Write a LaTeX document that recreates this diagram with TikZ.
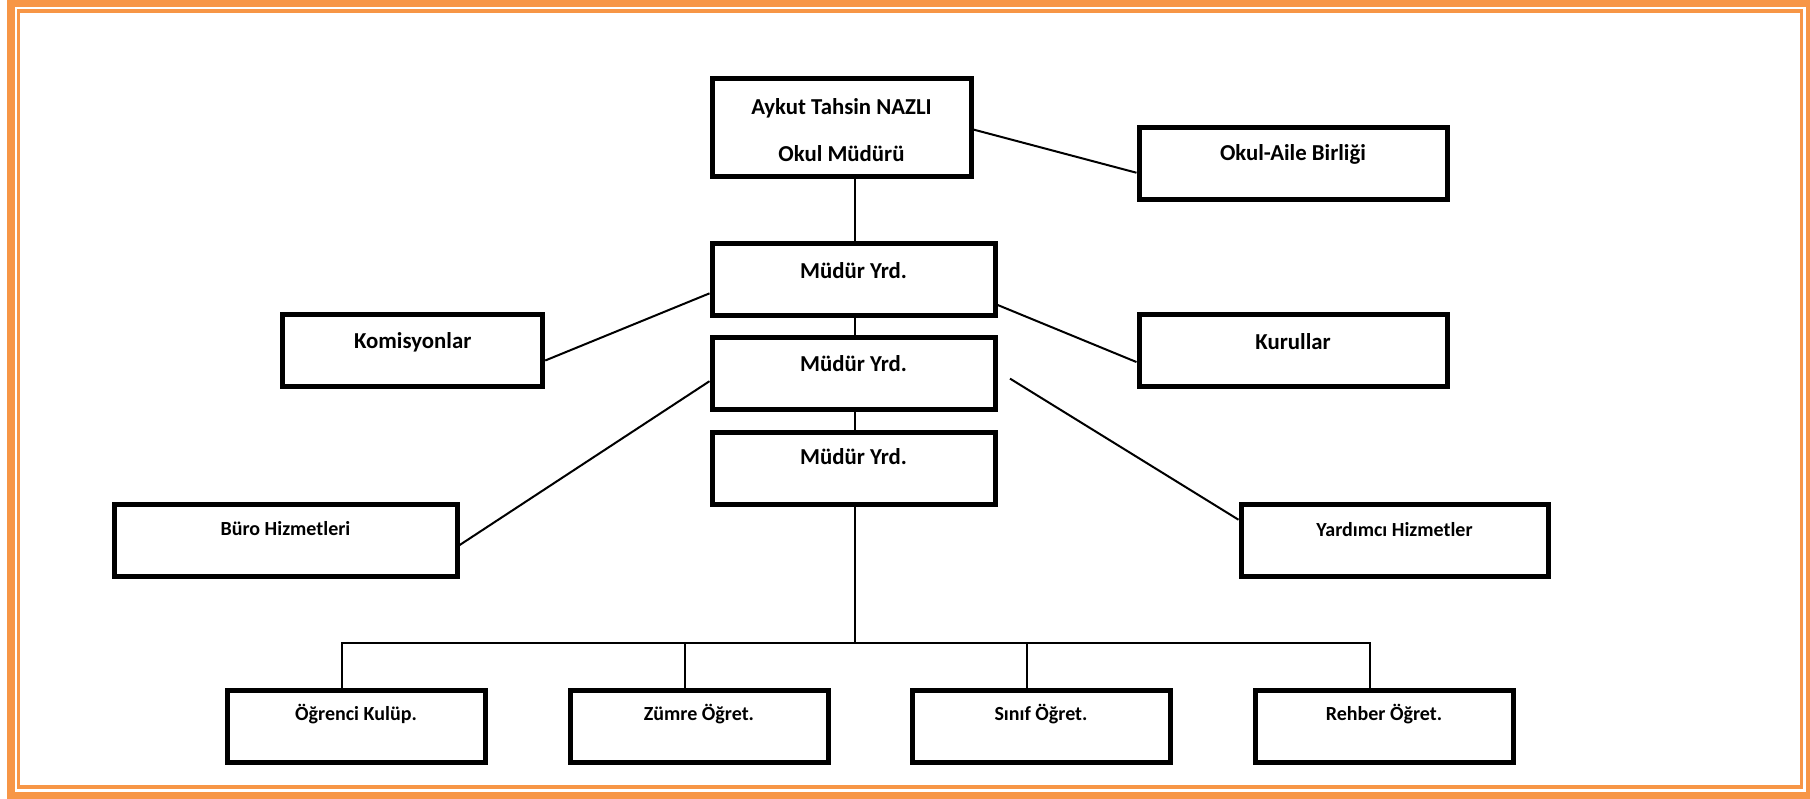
\documentclass[tikz,border=0pt]{standalone}
\usepackage{fontspec}
\setmainfont{Carlito}
\usetikzlibrary{calc}
\definecolor{frameorange}{HTML}{F79646}
\begin{document}
\begin{tikzpicture}[x=0.5pt,y=-0.5pt,
  box/.style={draw=black, line width=2.5pt, fill=white, inner sep=0pt, minimum height=36pt},
  big/.style={font=\bfseries\fontsize{11.4}{13}\selectfont, inner sep=0pt},
  small/.style={font=\bfseries\fontsize{10}{12}\selectfont, inner sep=0pt},
  conn/.style={draw=black, line width=1pt}]
\useasboundingbox (0,0) rectangle (1810,798);
\fill[white] (0,0) rectangle (1810,798);
\draw[frameorange, line width=4pt] (11,3) rectangle (1810,796);
\draw[frameorange, line width=1.75pt] (18.5,11.2) rectangle (1801.5,787);

% boxes
\node[box, minimum width=129.5pt, minimum height=49pt] (mudur) at (841.5,127.5) {};
\node[box, minimum width=154pt] (aile) at (1293,163.5) {};
\node[box, minimum width=141.5pt] (my1) at (853.5,279.5) {};
\node[box, minimum width=141.5pt] (my2) at (853.5,373.5) {};
\node[box, minimum width=141.5pt] (my3) at (853.5,468.5) {};
\node[box, minimum width=130pt] (kom) at (412.7,350.5) {};
\node[box, minimum width=154pt] (kur) at (1293,350.5) {};
\node[box, minimum width=171.5pt] (buro) at (285.5,540.5) {};
\node[box, minimum width=153.5pt] (yard) at (1394.5,540.5) {};
\node[box, minimum width=129pt] (ogr) at (356,726.5) {};
\node[box, minimum width=129pt] (zum) at (699,726.5) {};
\node[box, minimum width=129pt] (sin) at (1041,726.5) {};
\node[box, minimum width=129pt] (reh) at (1384,726.5) {};

% texts
\node[big] (mudurA) at (841.5,108.5) {Aykut Tahsin NAZLI};
\node[big] (mudurB) at (841.5,153.5) {Okul Müdürü};
\node[big] (aileT) at (1293,154.5) {Okul-Aile Birliği};
\node[big] (my1T) at (853.5,271) {Müdür Yrd.};
\node[big] (my2T) at (853.5,364) {Müdür Yrd.};
\node[big] (my3T) at (853.5,457) {Müdür Yrd.};
\node[big] (komT) at (412.7,342.5) {Komisyonlar};
\node[big] (kurT) at (1293,341.7) {Kurullar};
\node[small] (buroT) at (285.5,529) {Büro Hizmetleri};
\node[small] (yardT) at (1394.5,530) {Yardımcı Hizmetler};
\node[small] (ogrT) at (356,714) {Öğrenci Kulüp.};
\node[small] (zumT) at (699,714) {Zümre Öğret.};
\node[small] (sinT) at (1041,714) {Sınıf Öğret.};
\node[small] (rehT) at (1384,714) {Rehber Öğret.};

% coordinates
\coordinate (bus) at (855,643);
\coordinate (yfree) at (1010,378.6);
\coordinate (dOgr) at ($(ogr.north)+(-14,0)$);
\coordinate (dZum) at ($(zum.north)+(-14,0)$);
\coordinate (dSin) at ($(sin.north)+(-14,0)$);
\coordinate (dReh) at ($(reh.north)+(-14,0)$);

% connectors
\draw[conn] (mudur.south -| bus) -- (my1.north -| bus);
\draw[conn] (my1.south -| bus) -- (my2.north -| bus);
\draw[conn] (my2.south -| bus) -- (my3.north -| bus);
\draw[conn] (my3.south -| bus) -- (bus);
\draw[conn] (dOgr) |- (bus) -| (dReh);
\draw[conn] (dZum) -- (dZum |- bus);
\draw[conn] (dSin) -- (dSin |- bus);
\draw[conn] ($(mudur.north east)!0.52!(mudur.south east)$) -- ($(aile.north west)!0.62!(aile.south west)$);
\draw[conn] ($(my1.north west)!0.68!(my1.south west)$) -- ($(kom.north east)!0.63!(kom.south east)$);
\draw[conn] ($(my1.north east)!0.83!(my1.south east)$) -- ($(kur.north west)!0.65!(kur.south west)$);
\draw[conn] ($(my2.north west)!0.6!(my2.south west)$) -- ($(buro.north east)!0.56!(buro.south east)$);
\draw[conn] (yfree) -- ($(yard.north west)!0.23!(yard.south west)$);
\end{tikzpicture}
\end{document}
